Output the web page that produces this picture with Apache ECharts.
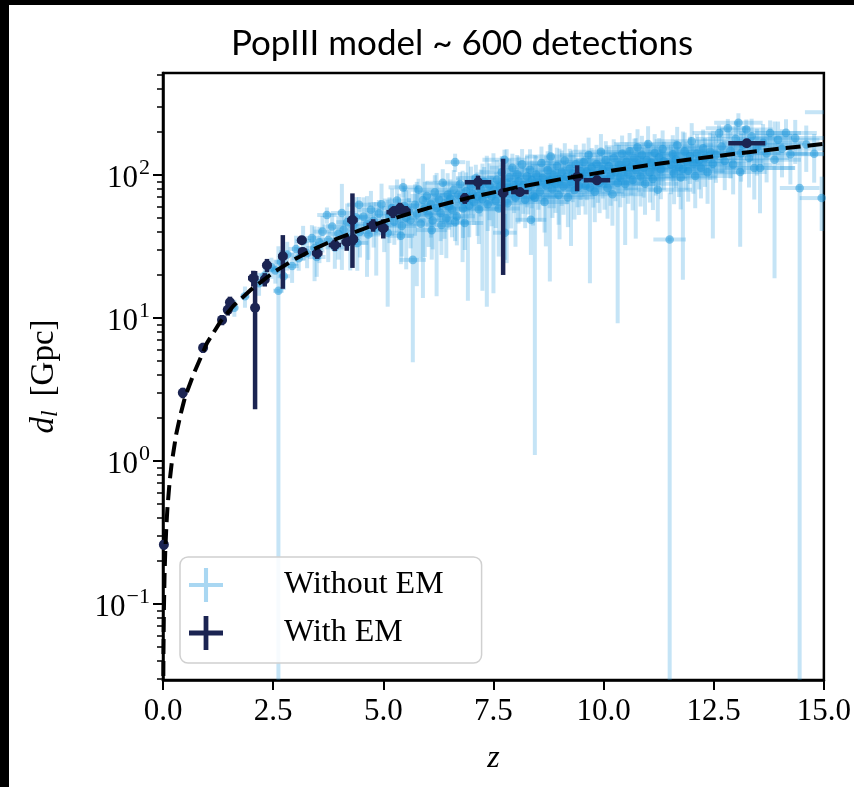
<!DOCTYPE html>
<html>
<head>
<meta charset="utf-8">
<script src="https://cdn.jsdelivr.net/npm/echarts@6/dist/echarts.min.js"></script>
<style>
  html, body { margin: 0; padding: 0; background: #000; }
  #chart { position: absolute; left: 9px; top: 5px; width: 845px; height: 782px; background: #fff; }
</style>
</head>
<body>
<div id="chart"></div>
<script>
// axis ranges and ticks
var zRange = [0, 15];
var dlRange = [0.0294, 517];
var yMajorTicks = [0.1, 1, 10, 100];
var yMinorTicks = [0.03, 0.04, 0.05, 0.06, 0.07, 0.08, 0.09,
    0.2, 0.3, 0.4, 0.5, 0.6, 0.7, 0.8, 0.9,
    2, 3, 4, 5, 6, 7, 8, 9,
    20, 30, 40, 50, 60, 70, 80, 90,
    200, 300, 400, 500];

// dashed reference curve d_l(z)
var curveZ = [0.005, 0.01, 0.02, 0.035, 0.05, 0.075, 0.1, 0.15, 0.2, 0.3, 0.4, 0.5, 0.7, 1, 1.3, 1.6,
    2, 2.5, 3, 3.5, 4, 5, 6, 7, 8, 9, 10, 11, 12, 13, 14, 15];
var curveDl = [0.022, 0.044, 0.089, 0.158, 0.227, 0.345, 0.466, 0.717, 0.98, 1.54, 2.13, 2.8, 4.1, 6.7, 9.4, 12.2,
    15.8, 20.8, 25.9, 31.1, 36.4, 47.3, 58.5, 70, 81.6, 93.2, 105, 117, 129, 141, 153, 165];

// detections: [z, d_l (Gpc), sigma_z, sigma_dl]
var withoutEM = [
    [1.62,11.8,0.07,1.6],[1.86,14.2,0.1,2.4],[2.18,17.5,0.1,3.2],[2.31,19.8,0.12,2.6],[2.46,22.6,0.12,3.8],[2.62,15.5,0.12,16.2],
    [2.55,21.5,0.12,4.1],[2.68,24.6,0.15,5.2],[2.74,19.6,0.14,3.9],[2.82,27.8,0.16,6.3],[2.93,23.1,0.15,5.5],[3.02,30.4,0.17,7.2],
    [3.08,26.2,0.16,4.8],[3.18,34.6,0.18,9.5],[3.27,28.4,0.18,6.1],[3.38,36.2,0.2,8.4],[3.44,30.9,0.19,12.8],[3.49,26.7,0.2,7.3],
    [3.55,33.8,0.2,9.6],[3.62,40.2,0.2,11.5],[3.72,52.5,0.22,6.8],[3.75,35.1,0.2,10.5],[3.84,43.6,0.22,10.2],[3.9,31.2,0.22,9.1],
    [3.98,38.8,0.24,13.2],[4.06,54.2,0.25,32.5],[4.1,41.4,0.24,9.6],[4.18,46.8,0.25,16.4],[4.25,36.6,0.24,15.1],[4.32,44.2,0.26,11.8],
    [4.38,50.6,0.26,19.4],[4.45,62.0,0.27,8.2],[4.47,40.1,0.26,13.6],[4.41,33.5,0.25,12.1],
    [4.55,51.2,0.27,18.6],[4.63,45.3,0.28,25.9],[4.66,38.4,0.27,12.9],[4.72,57.1,0.29,20.3],[4.78,47.9,0.28,16.8],[4.84,42.3,0.29,22.5],
    [4.9,53.8,0.3,13.1],[4.96,62.4,0.3,24.6],[5.02,44.8,0.3,15.9],[5.1,39.5,0.31,27.5],[5.14,51.6,0.31,18.2],[5.2,58.9,0.32,21.4],
    [5.25,47.2,0.31,14.7],[5.31,66.3,0.32,26.8],[5.36,54.5,0.33,19.5],[5.42,44.1,0.32,17.2],[5.45,82.0,0.33,12.4],[5.48,60.7,0.33,22.9],
    [5.52,50.2,0.34,28.3],[5.4,37.6,0.3,13.8],
    [5.58,56.4,0.34,20.1],[5.62,48.3,0.34,17.6],[5.67,25.5,0.3,20.6],[5.72,61.8,0.35,24.2],[5.76,53.1,0.35,36.4],[5.8,79.0,0.36,15.2],
    [5.85,45.6,0.35,19.3],[5.9,66.9,0.36,53.1],[5.94,58.2,0.36,31.5],[5.99,71.4,0.37,18.6],[6.03,52.7,0.37,21.3],[6.08,62.9,0.37,26.4],
    [6.12,48.1,0.37,17.9],[6.17,75.6,0.38,24.1],[6.21,58.8,0.38,44.6],[6.26,67.4,0.38,20.5],[6.3,54.3,0.39,19.8],[6.35,88.2,0.39,21.6],
    [6.39,63.1,0.39,27.3],[6.43,49.6,0.38,23.4],[6.46,72.8,0.4,30.2],[6.49,60.2,0.4,18.7],[6.1,41.2,0.35,15.6],[6.32,44.7,0.36,17.1],
    [6.52,68.4,0.4,24.8],[6.56,57.3,0.4,20.6],[6.6,78.9,0.41,29.4],[6.63,123.0,0.23,18.0],[6.63,47.0,0.3,12.5],[6.67,51.4,0.41,19.2],
    [6.7,72.6,0.41,23.6],[6.74,86.3,0.42,18.4],[6.8,65.9,0.42,41.3],[6.81,58.4,0.42,22.1],[6.85,46.2,0.42,16.3],[6.88,76.8,0.43,27.5],
    [6.92,69.4,0.43,56.2],[6.95,61.1,0.43,24.4],[6.99,83.7,0.44,30.8],[7.03,73.5,0.44,26.1],[7.06,64.6,0.44,19.9],[7.1,95.4,0.45,22.6],
    [7.14,70.9,0.45,33.4],[7.17,57.6,0.45,24.7],[7.21,80.2,0.46,28.9],[7.25,67.8,0.46,52.3],[7.29,89.6,0.46,24.2],[7.35,74.1,0.47,62.1],
    [7.37,62.4,0.47,21.8],[7.41,84.5,0.47,36.2],[7.46,71.2,0.48,27.4],
    [7.5,78.4,0.48,63.5],[7.55,66.1,0.48,23.5],[7.58,92.7,0.49,34.6],[7.62,58.3,0.48,31.4],[7.65,83.2,0.49,28.3],[7.69,104.6,0.5,31.2],
    [7.72,72.5,0.49,25.6],[7.75,128.0,0.5,22.4],[7.76,39.5,0.27,14.0],[7.8,87.9,0.5,63.7],[7.82,63.4,0.5,22.9],[7.86,96.3,0.51,33.8],
    [7.9,79.1,0.51,36.8],[7.93,112.4,0.51,28.6],[7.97,84.6,0.52,30.4],[8.0,69.8,0.52,38.3],[8.04,101.2,0.52,36.9],[8.07,90.3,0.52,44.5],
    [8.11,76.4,0.53,29.1],[8.15,118.7,0.53,33.2],[8.18,85.1,0.53,31.6],[8.22,67.3,0.53,24.8],[8.26,97.8,0.54,38.4],[8.29,81.7,0.54,28.7],
    [8.33,108.9,0.54,42.5],[8.35,48.6,0.35,21.0],[8.37,92.4,0.55,33.9],[8.4,71.6,0.55,27.3],[8.44,69.5,0.55,68.4],[8.47,100.6,0.55,35.7],
    [8.52,88.6,0.56,31.4],[8.55,76.2,0.56,28.9],[8.59,121.3,0.56,36.8],[8.62,95.4,0.57,34.2],[8.66,64.7,0.56,25.1],[8.69,84.3,0.57,52.6],
    [8.73,108.2,0.57,38.4],[8.77,91.7,0.58,33.1],[8.78,90.0,0.55,72.0],[8.8,134.6,0.58,31.8],[8.84,79.5,0.58,29.4],[8.87,99.8,0.58,41.2],
    [8.91,86.9,0.59,32.6],[8.94,115.6,0.59,39.7],[8.98,72.4,0.59,27.5],[9.0,94.1,0.6,58.6],[9.05,104.7,0.6,43.8],[9.09,83.6,0.6,30.9],
    [9.12,126.4,0.6,40.5],[9.16,97.2,0.61,34.8],[9.19,69.8,0.61,26.6],[9.23,110.5,0.61,42.1],[9.26,89.3,0.62,57.4],[9.3,101.8,0.62,37.2],
    [9.34,78.6,0.62,29.8],[9.37,118.9,0.62,43.6],[9.41,94.6,0.63,35.1],[9.44,84.2,0.63,31.7],[9.48,106.3,0.63,39.4],
    [9.52,96.8,0.64,36.4],[9.55,123.4,0.64,42.7],[9.59,84.1,0.64,31.2],[9.62,105.6,0.65,38.9],[9.66,138.2,0.65,44.3],[9.69,82.0,0.6,64.5],
    [9.73,112.7,0.66,41.8],[9.77,94.8,0.66,35.6],[9.8,76.5,0.66,29.7],[9.84,119.3,0.67,43.2],[9.87,101.4,0.67,37.5],[9.91,88.2,0.67,34.1],
    [9.94,145.6,0.68,47.8],[9.98,108.7,0.68,40.2],[10.02,92.5,0.68,35.3],[10.05,126.8,0.69,45.6],[10.09,81.3,0.69,31.8],[10.12,114.9,0.69,42.4],
    [10.16,99.6,0.7,38.7],[10.2,73.4,0.69,29.2],[10.23,131.5,0.7,46.3],[10.27,105.2,0.7,39.6],[10.32,88.0,0.6,78.8],[10.35,118.6,0.71,43.9],
    [10.38,96.3,0.71,36.8],[10.42,140.7,0.72,48.2],[10.45,110.4,0.72,41.3],[10.49,86.7,0.72,54.3],
    [10.52,123.7,0.72,45.6],[10.56,101.2,0.73,38.3],[10.59,146.3,0.73,50.4],[10.63,114.8,0.73,42.7],[10.66,92.4,0.73,35.8],[10.7,131.6,0.74,47.9],
    [10.73,108.5,0.74,72.6],[10.77,156.2,0.74,52.8],[10.8,119.7,0.75,44.1],[10.84,97.6,0.75,37.4],[10.87,138.4,0.75,49.6],[10.91,112.3,0.76,42.8],
    [10.94,86.9,0.76,34.2],[10.98,127.5,0.76,46.9],[11.01,164.8,0.77,54.6],[11.05,104.3,0.77,40.1],[11.08,121.9,0.77,45.3],[11.12,93.7,0.78,36.8],
    [11.16,142.6,0.78,50.7],[11.19,115.4,0.78,43.6],[11.23,78.8,0.78,31.4],[11.26,133.2,0.79,48.3],[11.3,109.6,0.79,41.9],[11.34,151.8,0.79,53.2],
    [11.37,124.6,0.8,46.4],[11.5,35.4,0.37,40.0],
    [11.53,118.2,0.8,44.8],[11.57,139.7,0.8,50.1],[11.6,102.8,0.81,40.3],[11.64,128.4,0.81,47.2],[11.67,161.5,0.81,55.6],[11.71,113.9,0.82,43.7],
    [11.75,96.1,0.82,38.6],[11.8,110.0,0.7,91.5],[11.84,146.3,0.83,51.8],[11.88,124.7,0.83,46.5],[11.92,107.2,0.83,42.1],[11.96,135.8,0.84,49.3],
    [12.0,172.4,0.84,58.2],[12.04,119.6,0.84,45.6],[12.08,98.4,0.85,39.8],[12.12,141.2,0.85,51.4],[12.17,126.9,0.85,47.6],[12.21,112.5,0.86,43.9],
    [12.26,153.7,0.86,54.3],[12.3,131.8,0.86,49.2],[12.36,104.6,0.87,41.7],[12.42,145.1,0.87,52.6],
    [12.48,120.0,0.65,84.0],[12.55,138.6,0.87,50.4],[12.62,196.4,0.6,28.6],[12.68,158.2,0.88,55.7],[12.75,125.3,0.88,46.9],[12.82,212.5,0.5,34.2],
    [12.88,147.6,0.89,53.1],[12.94,118.4,0.89,45.2],[13.0,178.9,0.9,58.6],[13.06,232.0,0.55,38.4],[13.1,105.0,0.6,73.5],[13.12,142.3,0.9,52.4],
    [13.18,162.7,0.91,57.3],[13.24,208.0,0.6,36.5],[13.3,131.6,0.91,49.8],[13.36,186.4,0.92,61.2],[13.42,112.0,0.92,44.6],[13.48,154.9,0.92,55.8],
    [13.55,112.0,0.8,58.0],[13.62,168.3,0.93,58.9],[13.7,141.5,0.93,52.7],[13.78,196.8,0.7,44.1],[13.88,128.0,0.6,109.0],[13.96,176.4,0.94,60.2],
    [14.05,152.6,0.95,56.3],[14.14,197.0,0.7,48.5],[14.24,139.8,0.95,53.9],[14.35,181.2,0.96,61.7],[14.45,81.0,0.45,90.0],[14.6,163.5,0.97,58.4],
    [14.78,141.0,0.6,52.6],[14.95,69.0,0.5,28.4],[15.3,275.0,0.73,40.0]
];

var withEM = [
    [0.02,0.26,0.01,0.02],[0.45,3.0,0.04,0.25],[0.91,6.2,0.05,0.5],[1.34,9.7,0.06,0.8],[1.47,11.4,0.06,1.0],
    [1.52,12.9,0.07,1.2],[2.05,19.0,0.12,2.4],[2.09,11.8,0.08,9.5],[2.31,18.6,0.08,2.0],[2.36,23.4,0.1,2.5],
    [2.72,27.0,0.1,11.0],[3.15,35.0,0.1,2.0],[3.17,29.0,0.1,2.0],[3.5,28.4,0.12,2.5],[3.9,32.4,0.14,3.0],
    [4.17,34.0,0.12,4.5],[4.3,48.4,0.12,26.0],[4.32,35.5,0.1,3.0],[4.77,44.6,0.15,4.5],[5.0,42.5,0.12,6.5],
    [5.22,55.0,0.15,5.0],[5.38,58.5,0.18,5.5],[5.5,56.0,0.12,4.0],[6.85,68.8,0.08,6.0],[7.15,89.0,0.3,10.0],
    [7.72,75.0,0.12,55.0],[8.1,76.0,0.2,5.0],[9.4,97.0,0.14,20.0],[9.85,92.0,0.3,7.0],[13.25,167.0,0.42,8.0]
];

var lightBar = 'rgba(40,155,222,0.27)';
var lightDot = 'rgba(25,150,218,0.5)';
var darkNavy = '#1b2452';
var serif = 'Liberation Serif';
var plusThin = 'path://M4.4,0h1.2v4.4h4.4v1.2h-4.4v4.4h-1.2v-4.4h-4.4v-1.2h4.4z';
var plusThick = 'path://M4.3,0h1.4v4.3h4.3v1.4h-4.3v4.3h-1.4v-4.3h-4.3v-1.4h4.3z';

// error bar drawing: cross of z and d_l errors plus a dot at the centre
function errorBars(barColor, dotColor, barWidth, dotR) {
    return function (params, api) {
        var z = api.value(0), dl = api.value(1), sz = api.value(2), sdl = api.value(3);
        var box = params.coordSys;
        var x0 = box.x, x1 = box.x + box.width, y0 = box.y, y1 = box.y + box.height;
        function cx(v) { return Math.max(x0, Math.min(x1, v)); }
        function cy(v) { return Math.max(y0, Math.min(y1, v)); }
        var c = api.coord([z, dl]);
        var xl = cx(api.coord([z - sz, dl])[0]);
        var xr = cx(api.coord([z + sz, dl])[0]);
        var yt = cy(api.coord([z, dl + sdl])[1]);
        var yb = dl - sdl > 0 ? cy(api.coord([z, dl - sdl])[1]) : y1;
        var inside = c[0] >= x0 && c[0] <= x1;
        var children = [];
        if (inside) {
            children.push({ type: 'line', shape: { x1: c[0], y1: yt, x2: c[0], y2: yb },
                style: { stroke: barColor, lineWidth: barWidth } });
        }
        children.push({ type: 'line', shape: { x1: xl, y1: c[1], x2: xr, y2: c[1] },
            style: { stroke: barColor, lineWidth: barWidth } });
        if (inside) {
            children.push({ type: 'circle', shape: { cx: c[0], cy: c[1], r: dotR },
                style: { fill: dotColor } });
        }
        return { type: 'group', children: children };
    };
}

var curveData = curveZ.map(function (z, i) { return [z, curveDl[i]]; });

var myChart = echarts.init(document.getElementById('chart'));
var option = {
    backgroundColor: '#fff',
    animation: false,
    title: {
        text: 'PopIII model ~ 600 detections',
        left: 453,
        top: 21,
        padding: 0,
        textAlign: 'center',
        textStyle: { fontFamily: 'Lato', fontWeight: 'normal', fontSize: 35, color: '#000' }
    },
    grid: {
        left: 154, top: 68, width: 661, height: 607,
        show: true, borderColor: '#000', borderWidth: 2.5, backgroundColor: '#fff'
    },
    legend: {
        orient: 'vertical',
        left: 171,
        top: 552,
        padding: [11, 38, 13, 9],
        itemWidth: 72,
        itemHeight: 34,
        itemGap: 14,
        backgroundColor: 'rgba(255,255,255,0.85)',
        borderColor: '#d0d0d0',
        borderWidth: 1.5,
        borderRadius: 8,
        formatter: function (name) { return '{gap|}' + name; },
        textStyle: {
            fontFamily: serif, fontSize: 32, color: '#000',
            rich: { gap: { width: 37 } }
        },
        data: [
            { name: 'Without EM', icon: plusThin, itemStyle: { color: 'rgba(40,155,222,0.4)' } },
            { name: 'With EM', icon: plusThick, itemStyle: { color: darkNavy } }
        ]
    },
    xAxis: {
        type: 'value',
        min: zRange[0],
        max: zRange[1],
        interval: 2.5,
        name: 'z',
        nameLocation: 'middle',
        nameGap: 63,
        nameTextStyle: { fontFamily: serif, fontStyle: 'italic', fontSize: 32, color: '#000' },
        axisLine: { show: true, lineStyle: { color: '#000', width: 2.5 } },
        axisTick: { show: true, length: 10, lineStyle: { color: '#000', width: 2 } },
        axisLabel: {
            margin: 16, color: '#000', fontFamily: serif, fontSize: 31,
            formatter: function (v) { return v.toFixed(1); }
        },
        splitLine: { show: false }
    },
    yAxis: [{
        type: 'log',
        logBase: 10,
        min: dlRange[0],
        max: dlRange[1],
        position: 'left',
        name: '{i|d}{sub|l} [Gpc]',
        nameLocation: 'middle',
        nameGap: 101,
        nameTextStyle: {
            fontFamily: serif, fontSize: 33, color: '#000',
            rich: {
                i: { fontFamily: serif, fontStyle: 'italic', fontSize: 33 },
                sub: { fontFamily: serif, fontStyle: 'italic', fontSize: 23, padding: [12, 6, 0, 0] }
            }
        },
        axisLine: { show: true, lineStyle: { color: '#000', width: 2.5 } },
        axisTick: { show: true, length: 10, customValues: yMajorTicks, lineStyle: { color: '#000', width: 2 } },
        axisLabel: {
            margin: 13,
            customValues: yMajorTicks,
            color: '#000',
            fontFamily: serif,
            fontSize: 31,
            formatter: function (v) {
                var e = Math.round(Math.log(v) / Math.LN10);
                return '{b|10}{s|' + (e < 0 ? '\u2212' + (-e) : e) + '}';
            },
            rich: {
                b: { fontFamily: serif, fontSize: 31, color: '#000', padding: [8, 0, 0, 0] },
                s: { fontFamily: serif, fontSize: 22, color: '#000', padding: [0, 0, 14, 1] }
            }
        },
        splitLine: { show: false }
    }, {
        type: 'log',
        logBase: 10,
        min: dlRange[0],
        max: dlRange[1],
        position: 'left',
        offset: 0,
        axisLine: { show: false },
        axisTick: { show: true, length: 6, customValues: yMinorTicks, lineStyle: { color: '#000', width: 1.5 } },
        axisLabel: { show: false },
        splitLine: { show: false }
    }],
    series: [{
        name: 'Without EM',
        type: 'custom',
        coordinateSystem: 'cartesian2d',
        xAxisIndex: 0,
        yAxisIndex: 0,
        z: 2,
        itemStyle: { color: 'rgba(40,155,222,0.4)' },
        encode: { x: 0, y: 1 },
        renderItem: errorBars(lightBar, lightDot, 4, 4.3),
        data: withoutEM
    }, {
        name: 'With EM',
        type: 'custom',
        coordinateSystem: 'cartesian2d',
        xAxisIndex: 0,
        yAxisIndex: 0,
        z: 3,
        itemStyle: { color: darkNavy },
        encode: { x: 0, y: 1 },
        renderItem: errorBars(darkNavy, darkNavy, 4.5, 5),
        data: withEM
    }, {
        name: 'curve',
        type: 'line',
        xAxisIndex: 0,
        yAxisIndex: 0,
        z: 4,
        symbol: 'none',
        clip: true,
        lineStyle: { color: '#000', width: 4, type: [15, 7] },
        data: curveData
    }]
};
myChart.setOption(option);
window.addEventListener('resize', function () {
    myChart.resize();
});
</script>
</body>
</html>
